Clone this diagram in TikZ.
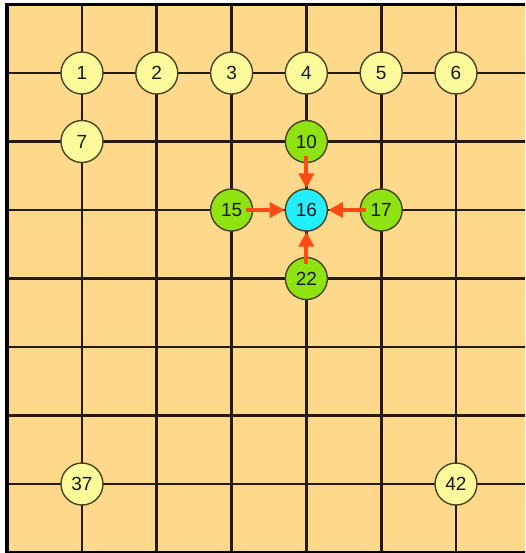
\documentclass[tikz,border=0pt]{standalone}
\usepackage{fontspec}
\setsansfont{Liberation Sans}
\usepackage{xcolor}
\usetikzlibrary{arrows.meta}

\definecolor{boardfill}{HTML}{FED98B}
\definecolor{gridcol}{HTML}{241A0E}
\definecolor{stoneline}{HTML}{4A4224}
\definecolor{freecol}{HTML}{FBFB9C}
\definecolor{movecol}{HTML}{8FE312}
\definecolor{targetcol}{HTML}{22EEFF}
\definecolor{arrowcol}{HTML}{FF4A14}

\begin{document}
\begin{tikzpicture}[
    x=74.8pt, y=-68.5pt,
    gridline/.style={line width=2.8pt, draw=gridcol},
    frame/.style={line width=3.4pt, draw=black},
    stone/.style={circle, draw=stoneline, line width=1.4pt, minimum size=42pt, inner sep=0pt, text=black!90, font=\sffamily\fontsize{19}{19}\selectfont},
    free/.style={stone, fill=freecol},
    move/.style={stone, fill=movecol},
    target/.style={stone, fill=targetcol},
    arrow/.style={-{Triangle[length=15pt,width=15pt]}, line width=4.2pt, draw=arrowcol, shorten <=-7pt}
    ]

    % Rand und Brett
    \useasboundingbox (-0.096,-0.066) rectangle (6.923,8.007);
    \clip (-0.096,-0.066) rectangle (6.923,8.007);
    \fill[boardfill] (0,0) rectangle (7,8);

    % Gitterlinien
    \foreach \col in {1,...,6} \draw[gridline] (\col,0) -- (\col,8);
    \foreach \row in {1,...,7} \draw[gridline] (0,\row) -- (7,\row);
    \draw[frame] (7,0) -- (0,0) -- (0,8) -- (7,8);

    % Reihe 1
    \node[free] (f1) at (1,1) {1};
    \node[free] (f2) at (2,1) {2};
    \node[free] (f3) at (3,1) {3};
    \node[free] (f4) at (4,1) {4};
    \node[free] (f5) at (5,1) {5};
    \node[free] (f6) at (6,1) {6};

    % Nachbarn und Ziel
    \node[free] (f7) at (1,2) {7};
    \node[move] (f10) at (4,2) {10};
    \node[move] (f15) at (3,3) {15};
    \node[target] (f16) at (4,3) {16};
    \node[move] (f17) at (5,3) {17};
    \node[move] (f22) at (4,4) {22};

    % Reihe 7
    \node[free] (f37) at (1,7) {37};
    \node[free] (f42) at (6,7) {42};

    % Zuege zum Feld 16
    \draw[arrow] (f10) -- (f16);
    \draw[arrow] (f15) -- (f16);
    \draw[arrow] (f17) -- (f16);
    \draw[arrow] (f22) -- (f16);

\end{tikzpicture}
\end{document}
